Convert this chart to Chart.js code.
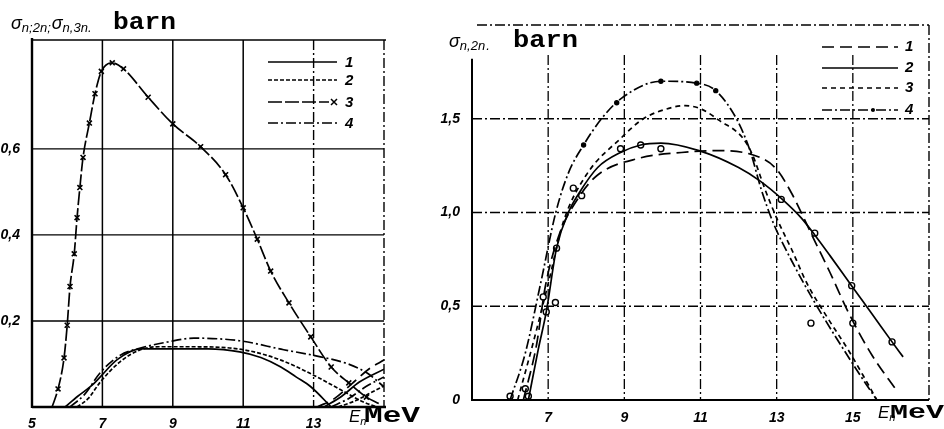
<!DOCTYPE html>
<html><head><meta charset="utf-8">
<script src="https://cdn.jsdelivr.net/npm/chart.js@4"></script>
<style>
html,body{margin:0;padding:0;background:#fff;width:944px;height:429px;overflow:hidden}
#cl{position:absolute;left:0;top:0}
#cr{position:absolute;left:440px;top:0}
</style></head><body>
<canvas id="cl" width="440" height="429"></canvas>
<canvas id="cr" width="504" height="429"></canvas>
<script>
// ---------- LEFT PANEL DATA (sigma n,2n ; sigma n,3n) ----------
const L_X_TICKS = [5, 7, 9, 11, 13];
const L_X_LABELS = ['5', '7', '9', '11', '13'];
const L_Y_TICKS = [0.2, 0.4, 0.6];
const L_Y_LABELS = ['0,2', '0,4', '0,6'];

const L1_E = [5.94, 6.3, 6.7, 6.94, 7.42, 8.08, 9.0, 10.0, 10.9, 11.5, 12.07, 12.5, 12.92, 13.5];
const L1_S = [0, 0.025, 0.05, 0.07, 0.11, 0.135, 0.135, 0.135, 0.128, 0.115, 0.093, 0.07, 0.047, 0];
const L2_E = [6.28, 6.6, 6.94, 7.5, 8.08, 8.6, 9.5, 10.5, 11.2, 12.07, 13.0, 13.77, 14.4, 14.8];
const L2_S = [0, 0.02, 0.058, 0.105, 0.133, 0.14, 0.14, 0.138, 0.13, 0.109, 0.074, 0.04, 0.012, 0];
const L3_E = [5.57, 5.74, 5.91, 6.0, 6.08, 6.2, 6.28, 6.36, 6.45, 6.63, 6.79, 6.97, 7.28, 7.6, 8.3, 9.0, 9.79, 10.5, 11.0, 11.4, 11.78, 12.3, 12.92, 13.5, 14.0, 14.5, 14.85];
const L3_S = [0, 0.042, 0.114, 0.19, 0.28, 0.356, 0.44, 0.51, 0.58, 0.66, 0.728, 0.78, 0.80, 0.786, 0.72, 0.658, 0.605, 0.54, 0.463, 0.39, 0.316, 0.242, 0.163, 0.093, 0.056, 0.023, 0.008];
const L4_E = [6.08, 6.5, 6.94, 7.5, 8.08, 8.85, 9.6, 10.9, 12.15, 13.0, 13.98, 14.5, 15.0];
const L4_S = [0, 0.03, 0.08, 0.12, 0.137, 0.151, 0.16, 0.154, 0.133, 0.12, 0.1, 0.08, 0.047];
// rising sigma n,3n branches
const R1_E = [13.1, 13.6, 14.1, 14.6, 15.0];
const R1_S = [0, 0.02, 0.055, 0.09, 0.109];
const R2_E = [13.3, 13.8, 14.3, 15.0];
const R2_S = [0, 0.025, 0.058, 0.088];
const R3_E = [13.5, 14.0, 14.5, 15.0];
const R3_S = [0, 0.02, 0.048, 0.07];
const R4_E = [13.7, 14.2, 14.6, 15.0];
const R4_S = [0, 0.015, 0.032, 0.049];

// ---------- RIGHT PANEL DATA (sigma n,2n) ----------
const R_X_TICKS = [7, 9, 11, 13, 15];
const R_X_LABELS = ['7', '9', '11', '13', '15'];
const R_Y_TICKS = [0, 0.5, 1.0, 1.5];
const R_Y_LABELS = ['0', '0,5', '1,0', '1,5'];

const C1_E = [6.35, 6.7, 6.92, 7.27, 7.8, 8.3, 9.4, 10.5, 11.5, 12.6, 13.0, 13.4, 13.9, 14.4, 14.9, 15.5, 16.15];
const C1_S = [0, 0.3, 0.6, 0.87, 1.08, 1.2, 1.29, 1.32, 1.33, 1.29, 1.23, 1.1, 0.89, 0.68, 0.46, 0.24, 0.05];
const C2_E = [6.48, 6.74, 6.95, 7.22, 7.53, 7.8, 8.3, 8.9, 9.43, 9.96, 10.96, 12.0, 12.55, 13.15, 13.65, 14.0, 14.4, 15.0, 15.5, 16.03, 16.32];
const C2_S = [0, 0.27, 0.47, 0.81, 1.0, 1.1, 1.24, 1.32, 1.36, 1.37, 1.33, 1.24, 1.17, 1.07, 0.97, 0.88, 0.77, 0.6, 0.46, 0.31, 0.23];
const C3_E = [6.2, 6.6, 7.0, 7.4, 8.0, 8.93, 9.5, 10.25, 10.6, 11.04, 11.5, 12.1, 12.36, 12.7, 13.0, 13.4, 13.8, 14.3, 14.9, 15.3, 15.63];
const C3_S = [0, 0.3, 0.62, 0.95, 1.2, 1.40, 1.5, 1.56, 1.57, 1.55, 1.49, 1.40, 1.31, 1.12, 0.97, 0.80, 0.62, 0.45, 0.26, 0.12, 0];
const C4_E = [6.0, 6.4, 6.8, 7.2, 7.53, 7.93, 8.4, 8.93, 9.96, 10.9, 11.4, 11.97, 12.3, 12.6, 12.9, 13.4, 14.0, 14.6, 15.2, 15.63];
const C4_S = [0, 0.25, 0.62, 1.0, 1.21, 1.36, 1.5, 1.61, 1.70, 1.69, 1.65, 1.49, 1.33, 1.12, 0.95, 0.74, 0.52, 0.32, 0.13, 0];
// experimental points
const P2_E = [6.0, 6.4, 6.48, 6.87, 6.95, 7.19, 7.22, 7.66, 7.88, 8.9, 9.43, 9.96, 13.12, 14.0, 14.97, 15.0, 13.9, 16.03];
const P2_S = [0.02, 0.06, 0.02, 0.55, 0.47, 0.52, 0.81, 1.13, 1.09, 1.34, 1.36, 1.34, 1.07, 0.89, 0.61, 0.41, 0.41, 0.31];
const P4_E = [7.93, 8.8, 9.96, 10.9, 11.4];
const P4_S = [1.36, 1.585, 1.70, 1.69, 1.65];

// ---------- helpers ----------
const pts = (E, S) => E.map((e, i) => ({x: e, y: S[i]}));
const SANS = '"Liberation Sans", Arial, sans-serif';
const MONO = '"Liberation Mono", "DejaVu Sans Mono", monospace';
const DASH = {solid: [], long: [12, 6], short: [5, 4], fine: [4, 2], dashdot: [10, 3, 2, 3], xline: [14, 3]};

function line(data, dash, extra) {
  return Object.assign({data, borderColor: '#000', backgroundColor: '#000', borderWidth: 1.7,
    borderDash: dash, pointRadius: 0, cubicInterpolationMode: 'monotone', fill: false}, extra || {});
}
function marks(data, style, r, fillWhite) {
  return {data, showLine: false, pointStyle: style, pointRadius: r, pointBorderWidth: 1.4,
    pointBorderColor: '#000', pointBackgroundColor: fillWhite ? '#fff' : '#000'};
}
function fitText(ctx, text, font, x, y, w) {
  ctx.save(); ctx.font = font; ctx.textBaseline = 'alphabetic'; ctx.textAlign = 'left'; ctx.fillStyle = '#000';
  const m = ctx.measureText(text).width;
  ctx.translate(x, y); ctx.scale(w / m, 1); ctx.fillText(text, 0, 0); ctx.restore();
}
function rich(ctx, parts, x, y) {
  ctx.save(); ctx.textBaseline = 'alphabetic'; ctx.textAlign = 'left'; ctx.fillStyle = '#000';
  for (const p of parts) { ctx.font = p.f; ctx.fillText(p.t, x, y + (p.dy || 0)); x += ctx.measureText(p.t).width + (p.gap || 0); }
  ctx.restore(); return x;
}
function seg(ctx, x1, y1, x2, y2, dash, w) {
  ctx.save(); ctx.strokeStyle = '#000'; ctx.lineWidth = w; ctx.setLineDash(dash);
  ctx.beginPath(); ctx.moveTo(x1, y1); ctx.lineTo(x2, y2); ctx.stroke(); ctx.restore();
}
function axisOpts(min, max, ticks, labels, fitKey, fitVal, pad) {
  return {type: 'linear', min, max,
    afterBuildTicks: s => { s.ticks = ticks.map(v => ({value: v})); },
    afterFit: s => { s[fitKey] = fitVal; },
    ticks: {color: '#000', padding: pad, font: {family: SANS, size: 14, style: 'italic', weight: 'bold'},
      callback: (v) => { const i = ticks.indexOf(v); return i >= 0 ? labels[i] : ''; }},
    grid: {display: false}, border: {display: false}};
}
const SIG = 'italic 18px ' + SANS, SUB = 'italic 13px ' + SANS;

// ---------- LEFT CHART ----------
const leftDecor = {
  id: 'leftDecor',
  beforeDatasetsDraw(chart) {
    const {ctx, scales: {x, y}, chartArea: a} = chart;
    [7, 9, 11].forEach(v => seg(ctx, x.getPixelForValue(v), a.top, x.getPixelForValue(v), a.bottom, DASH.solid, 1.5));
    seg(ctx, x.getPixelForValue(13), a.top, x.getPixelForValue(13), a.bottom, DASH.dashdot, 1.4);
    L_Y_TICKS.forEach(v => seg(ctx, a.left, y.getPixelForValue(v), a.right, y.getPixelForValue(v), DASH.solid, 1.4));
    seg(ctx, a.left, a.top, a.right + 2, a.top, DASH.solid, 1.6);
    seg(ctx, a.right, a.top, a.right, a.bottom, DASH.dashdot, 1.4);
    seg(ctx, a.left, a.top - 2, a.left, a.bottom + 1, DASH.solid, 2.4);
    seg(ctx, a.left, a.bottom, a.right + 2, a.bottom, DASH.solid, 2.4);
  },
  afterDraw(chart) {
    const {ctx} = chart;
    rich(ctx, [{t: 'σ', f: SIG}, {t: 'n;2n;', f: SUB, dy: 3, gap: 1}, {t: 'σ', f: SIG},
      {t: 'n,3n', f: SUB, dy: 3}, {t: '.', f: SUB, dy: 3}], 11, 29);
    fitText(ctx, 'barn', 'bold 23px ' + MONO, 113, 29, 63);
    rich(ctx, [{t: 'E', f: 'italic 17px ' + SANS}, {t: 'n', f: 'italic 11px ' + SANS, dy: 3}], 349, 422);
    fitText(ctx, 'MeV', 'bold 22px ' + MONO, 364, 422, 56);
    const ly = [62, 80, 102, 123], lx1 = 268, lx2 = 337;
    const st = [DASH.solid, DASH.fine, DASH.xline, DASH.dashdot];
    ly.forEach((yy, i) => {
      seg(ctx, lx1, yy, i === 2 ? lx2 - 8 : lx2, yy, st[i], 1.7);
      ctx.save(); ctx.font = 'italic bold 15px ' + SANS; ctx.textBaseline = 'middle'; ctx.fillStyle = '#000';
      ctx.fillText(String(i + 1), 345, yy + 1); ctx.restore();
    });
    ctx.save(); ctx.strokeStyle = '#000'; ctx.lineWidth = 1.5; ctx.beginPath();
    ctx.moveTo(lx2 - 6, ly[2] - 3); ctx.lineTo(lx2, ly[2] + 3); ctx.moveTo(lx2 - 6, ly[2] + 3); ctx.lineTo(lx2, ly[2] - 3);
    ctx.stroke(); ctx.restore();
  }
};

new Chart(document.getElementById('cl'), {
  type: 'line',
  data: {datasets: [
    line(pts(L1_E, L1_S), DASH.solid),
    line(pts(L2_E, L2_S), DASH.fine),
    line(pts(L3_E, L3_S), DASH.xline, {pointStyle: 'crossRot', pointBorderWidth: 1.6,
      pointRadius: c => (c.dataIndex === 0 || c.dataIndex === L3_E.length - 1) ? 0 : 3.5}),
    line(pts(L4_E, L4_S), DASH.dashdot),
    line(pts(R1_E, R1_S), DASH.long),
    line(pts(R2_E, R2_S), DASH.solid),
    line(pts(R3_E, R3_S), DASH.dashdot),
    line(pts(R4_E, R4_S), DASH.fine)
  ]},
  options: {
    responsive: false, animation: false, devicePixelRatio: 1,
    layout: {padding: {top: 40, right: 56, left: 0, bottom: 0}},
    plugins: {legend: {display: false}, tooltip: {enabled: false}},
    scales: {
      x: axisOpts(5, 15, L_X_TICKS, L_X_LABELS, 'height', 22, 1),
      y: axisOpts(0, 0.853, L_Y_TICKS, L_Y_LABELS, 'width', 32, 4)
    }
  },
  plugins: [leftDecor]
});

// ---------- RIGHT CHART ----------
const rightDecor = {
  id: 'rightDecor',
  beforeDatasetsDraw(chart) {
    const {ctx, scales: {x, y}, chartArea: a} = chart;
    R_X_TICKS.forEach(v => {
      const px = x.getPixelForValue(v);
      if (v === 15) {
        seg(ctx, px, a.top + 30, px, y.getPixelForValue(0.5), DASH.dashdot, 1.3);
        seg(ctx, px, y.getPixelForValue(0.5), px, a.bottom, DASH.solid, 1.5);
      } else {
        seg(ctx, px, a.top + 30, px, a.bottom, DASH.dashdot, 1.3);
      }
    });
    R_Y_TICKS.slice(1).forEach(v => seg(ctx, a.left, y.getPixelForValue(v), a.right, y.getPixelForValue(v), DASH.dashdot, 1.4));
    seg(ctx, a.left + 5, a.top, a.right, a.top, DASH.dashdot, 1.3);
    seg(ctx, a.right, a.top, a.right, a.bottom, DASH.dashdot, 1.4);
    seg(ctx, a.left, y.getPixelForValue(1.82), a.left, a.bottom + 1, DASH.solid, 2);
    seg(ctx, a.left, a.bottom, a.right, a.bottom, DASH.solid, 2);
  },
  afterDraw(chart) {
    const {ctx} = chart;
    rich(ctx, [{t: 'σ', f: SIG}, {t: 'n,2n', f: SUB, dy: 3, gap: 1}, {t: '.', f: SUB, dy: 3}], 9, 47);
    fitText(ctx, 'barn', 'bold 23px ' + MONO, 73, 47, 65);
    rich(ctx, [{t: 'E', f: 'italic 17px ' + SANS}, {t: 'n', f: 'italic 11px ' + SANS, dy: 3}], 438, 418);
    fitText(ctx, 'MeV', 'bold 20px ' + MONO, 450, 418, 54);
    const ly = [47, 68, 88, 110], lx1 = 382, lx2 = 458;
    const st = [DASH.long, DASH.solid, DASH.short, DASH.dashdot];
    ly.forEach((yy, i) => {
      seg(ctx, lx1, yy, lx2, yy, st[i], 1.6);
      ctx.save(); ctx.font = 'italic bold 15px ' + SANS; ctx.textBaseline = 'middle'; ctx.fillStyle = '#000';
      ctx.fillText(String(i + 1), 465, yy); ctx.restore();
    });
    ctx.save(); ctx.fillStyle = '#000'; ctx.beginPath(); ctx.arc(lx2 - 25, ly[3], 2, 0, 7); ctx.fill(); ctx.restore();
  }
};

new Chart(document.getElementById('cr'), {
  type: 'line',
  data: {datasets: [
    line(pts(C1_E, C1_S), DASH.long),
    line(pts(C2_E, C2_S), DASH.solid),
    line(pts(C3_E, C3_S), DASH.short),
    line(pts(C4_E, C4_S), DASH.dashdot),
    marks(pts(P2_E, P2_S), 'circle', 3, true),
    marks(pts(P4_E, P4_S), 'circle', 2, false)
  ]},
  options: {
    responsive: false, animation: false, devicePixelRatio: 1,
    layout: {padding: {top: 25, right: 15, left: 0, bottom: 0}},
    plugins: {legend: {display: false}, tooltip: {enabled: false}},
    scales: {
      x: axisOpts(5, 17, R_X_TICKS, R_X_LABELS, 'height', 29, 2),
      y: axisOpts(0, 2.0, R_Y_TICKS, R_Y_LABELS, 'width', 32, 4)
    }
  },
  plugins: [rightDecor]
});
</script>
</body></html>
